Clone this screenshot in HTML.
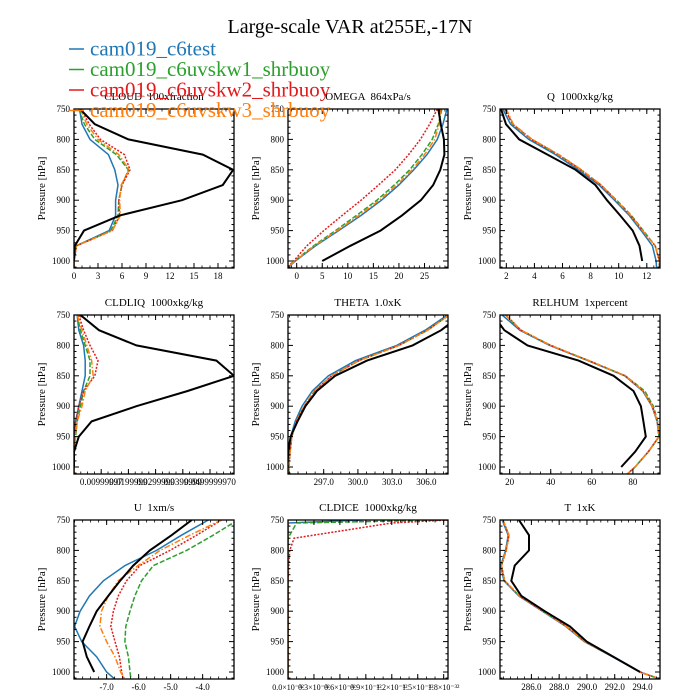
<!DOCTYPE html>
<html><head><meta charset="utf-8">
<style>
html,body{margin:0;padding:0;background:#fff;}
svg{display:block;font-family:"Liberation Serif",serif;}
text{white-space:pre;}
</style></head>
<body>
<svg id="chart" width="700" height="700" viewBox="0 0 700 700" xmlns="http://www.w3.org/2000/svg">
<text x="350" y="33" text-anchor="middle" font-size="20">Large-scale VAR at255E,-17N</text>
<g id="panels"></g>
<g id="legend"></g>
</svg>
<script>
// ---- data ----
const obsP = [750,775,800,825,850,875,900,925,950,975,1000];
const modP = [750,775,800,825,850,875,900,925,950,975,1000,1012];
const seriesNames = ["cam019_c6test","cam019_c6uvskw1_shrbuoy","cam019_c6uvskw2_shrbuoy","cam019_c6uvskw3_shrbuoy"];

const cloudObs = [0.75,2.6,6.8,16.1,19.9,18.6,13.5,5.75,1.25,0.1,0];
const cloudBlue = [0.7,1.0,2.0,4.3,5.1,5.5,5.2,5.2,4.4,0.3,0,0];
const cloudGreen = [0.6,1.3,2.6,5.3,6.8,6.0,5.6,5.5,4.6,0.3,0,0];
const cloudRed = [0.9,1.9,3.3,6.3,7.0,6.0,5.6,5.7,4.8,0.3,0,0];
const cloudOrange = [0.8,1.6,3.0,5.6,6.9,5.9,5.7,5.8,4.8,0.3,0,0];

const liqObs = [0.04,0.156,0.39,0.89,1.0,0.71,0.39,0.11,0.03,0,0];
const liqBlue = [0.02,0.03,0.06,0.07,0.07,0.05,0.03,0.01,0,0,0,0];
const liqGreen = [0.02,0.04,0.07,0.10,0.10,0.06,0.04,0.02,0.01,0,0,0];
const liqRed = [0.03,0.06,0.10,0.15,0.13,0.06,0.03,0.01,0,0,0,0];
const liqOrange = [0.02,0.05,0.08,0.11,0.12,0.07,0.05,0.02,0.01,0,0,0];

const omegaObs = [27.7,28.2,28.8,28.9,28.1,26.7,24.3,20.6,16.4,10.5,5.0];
const omegaBlue = [29.4,28.6,27.5,25.5,22.9,20.0,16.6,12.6,8.2,3.7,-0.25,-1.9];
const omegaGreen = [28.4,27.7,26.5,24.5,22.1,19.1,15.7,11.7,7.6,3.3,-0.45,-1.9];
const omegaRed = [27.5,26.0,24.2,21.9,19.3,16.0,12.6,8.9,5.3,2.0,-0.6,-2.0];
const omegaOrange = [28.1,27.9,27.0,25.0,22.6,19.6,16.2,12.2,7.9,3.5,-0.35,-1.9];

const thetaObs = [309.0,307.3,304.8,300.8,298.0,296.4,295.4,294.7,294.1,293.9,293.8];
const thetaBlue = [307.85,305.9,303.4,299.8,297.4,296.0,295.1,294.5,294.1,294.0,293.9,293.9];
const thetaGreen = [308.0,306.1,303.6,300.1,297.7,296.2,295.3,294.6,294.2,294.05,293.95,293.95];
const thetaRed = [308.0,306.1,303.6,300.1,297.7,296.2,295.3,294.6,294.2,294.05,293.95,293.95];
const thetaOrange = [308.0,306.1,303.6,300.1,297.7,296.2,295.3,294.6,294.2,294.05,293.95,293.95];

const qObs = [1.62,1.98,2.92,4.93,6.93,8.34,9.17,10.1,11.0,11.48,11.67];
const qBlue = [1.75,2.3,3.6,5.5,7.1,8.6,9.7,10.75,11.6,12.4,12.66,12.7];
const qGreen = [1.9,2.45,3.8,5.7,7.3,8.75,9.85,10.9,11.75,12.6,12.9,12.9];
const qRed = [1.9,2.45,3.8,5.7,7.3,8.7,9.8,10.85,11.7,12.6,12.9,12.9];
const qOrange = [2.0,2.5,3.85,5.75,7.35,8.75,9.8,10.85,11.7,12.6,12.9,12.95];

const rhObs = [12.0,17.4,28.7,53.5,70.6,80.3,83.9,85.1,86.3,81.1,74.3];
const rhBlue = [16.3,25.0,39.5,58.0,76.0,84.8,89.3,91.8,92.7,87.5,81.1,77.1];
const rhGreen = [18.0,25.5,40.0,58.5,76.3,85.8,90.0,92.1,92.8,87.5,81.1,77.1];
const rhRed = [18.2,25.5,40.0,58.5,76.3,85.1,89.5,91.9,92.7,87.5,81.1,77.1];
const rhOrange = [18.2,25.5,40.0,58.5,76.3,85.1,89.5,91.9,92.7,87.5,81.1,77.1];

const uObs = [-4.34,-4.97,-5.65,-6.17,-6.58,-6.95,-7.31,-7.54,-7.75,-7.62,-7.39];
const uBlue = [-3.82,-4.66,-5.44,-6.43,-7.1,-7.54,-7.83,-8.0,-7.78,-7.31,-7.0,-6.74];
const uGreen = [-2.9,-3.67,-4.5,-5.54,-5.91,-6.12,-6.27,-6.4,-6.43,-6.32,-6.27,-6.24];
const uRed = [-3.41,-4.19,-5.02,-5.96,-6.38,-6.64,-6.79,-6.87,-6.74,-6.6,-6.53,-6.48];
const uOrange = [-3.41,-4.4,-5.33,-6.02,-6.64,-6.95,-7.16,-7.21,-7.0,-6.74,-6.56,-6.43];

const iceP = [750,755,780,800,850,900,950,1000,1012];
const iceBlue = [0.87,0,0,0,0,0,0,0,0];
const iceGreen = [1.85,0.1,0,0,0,0,0,0,0];
const iceRed = [1.85,1.2,0.07,0.02,0,0,0,0,0];
const iceOrange = [0,0,0,0,0,0,0,0,0];

const tObs = [285.1,285.83,285.83,284.8,284.55,285.28,286.96,288.77,289.98,291.9,293.83];
const tBlue = [283.9,284.33,284.14,283.8,284.02,285.1,286.79,288.48,289.81,291.85,293.8,295.3];
const tGreen = [283.95,284.38,284.19,283.85,284.07,285.15,286.84,288.53,289.86,291.9,293.83,295.3];
const tRed = [283.95,284.38,284.19,283.85,284.07,285.15,286.84,288.53,289.86,291.9,293.83,295.3];
const tOrange = [283.95,284.38,284.19,283.85,284.07,285.15,286.84,288.53,289.86,291.9,293.83,295.3];

const cloudTicks = [0,3,6,9,12,15,18];
const liqTicks = [0.17,0.34,0.51,0.68,0.85];
const liqTickLabels = ["0.00999997","0.0199999","0.0299999","0.0399999","0.0499999970"];
const omegaTicks = [0,5,10,15,20,25];
const thetaTicks = [297,300,303,306];
const thetaTickLabels = ["297.0","300.0","303.0","306.0"];
const qTicks = [2,4,6,8,10,12];
const rhTicks = [20,40,60,80];
const uTicks = [-7,-6,-5,-4];
const uTickLabels = ["-7.0","-6.0","-5.0","-4.0"];
const iceTicks = [0,0.3,0.6,0.9,1.2,1.5,1.8];
const iceTickLabels = ["0.0×10⁻³²","0.3×10⁻³²","0.6×10⁻³²","0.9×10⁻³²","1.2×10⁻³²","1.5×10⁻³²","1.8×10⁻³²"];
const tTicks = [286,288,290,292,294];
const tTickLabels = ["286.0","288.0","290.0","292.0","294.0"];
const pTicks = [750,800,850,900,950,1000];

// ---- drawing ----
const NS = "http://www.w3.org/2000/svg";
const colors = ["#1f77b4","#2ca02c","#e31a1c","#ff7f0e"];
const dashes = ["", "5,2", "2,1.5", "6,2,1.5,2"];
const pMin = 750, pMax = 1011.5;
const root = document.getElementById("panels");

function mk(tag, attrs, parent){ const e=document.createElementNS(NS,tag); for(const k in attrs) e.setAttribute(k,attrs[k]); parent.appendChild(e); return e; }

const panels = [
 {name:"cloud", title:"CLOUD  100xfraction", x0:74, y0:109, xmin:0, xmax:20, ticks:cloudTicks, labels:null, minor:1, obs:cloudObs, obsP:obsP, mP:modP, mods:[cloudBlue,cloudGreen,cloudRed,cloudOrange]},
 {name:"omega", title:"OMEGA  864xPa/s", x0:288, y0:109, xmin:-1.7, xmax:29.6, ticks:omegaTicks, labels:null, minor:1, obs:omegaObs, obsP:obsP, mP:modP, mods:[omegaBlue,omegaGreen,omegaRed,omegaOrange]},
 {name:"q", title:"Q  1000xkg/kg", x0:500, y0:109, xmin:1.55, xmax:12.94, ticks:qTicks, labels:null, minor:0.5, obs:qObs, obsP:obsP, mP:modP, mods:[qBlue,qGreen,qRed,qOrange]},
 {name:"cldliq", title:"CLDLIQ  1000xkg/kg", x0:74, y0:315, xmin:0, xmax:1, ticks:liqTicks, labels:liqTickLabels, minor:0.0425, obs:liqObs, obsP:obsP, mP:modP, mods:[liqBlue,liqGreen,liqRed,liqOrange]},
 {name:"theta", title:"THETA  1.0xK", x0:288, y0:315, xmin:293.87, xmax:307.9, ticks:thetaTicks, labels:thetaTickLabels, minor:0.75, obs:thetaObs, obsP:obsP, mP:modP, mods:[thetaBlue,thetaGreen,thetaRed,thetaOrange]},
 {name:"relhum", title:"RELHUM  1xpercent", x0:500, y0:315, xmin:15.3, xmax:93.2, ticks:rhTicks, labels:null, minor:5, obs:rhObs, obsP:obsP, mP:modP, mods:[rhBlue,rhGreen,rhRed,rhOrange]},
 {name:"u", title:"U  1xm/s", x0:74, y0:520, xmin:-8.02, xmax:-3.02, ticks:uTicks, labels:uTickLabels, minor:0.25, obs:uObs, obsP:obsP, mP:modP, mods:[uBlue,uGreen,uRed,uOrange]},
 {name:"cldice", title:"CLDICE  1000xkg/kg", x0:288, y0:520, xmin:0, xmax:1.85, ticks:iceTicks, labels:iceTickLabels, minor:0.1, obs:null, obsP:obsP, mP:iceP, mods:[iceBlue,iceGreen,iceRed,iceOrange]},
 {name:"t", title:"T  1xK", x0:500, y0:520, xmin:283.74, xmax:295.26, ticks:tTicks, labels:tTickLabels, minor:0.5, obs:tObs, obsP:obsP, mP:modP, mods:[tBlue,tGreen,tRed,tOrange]}
];
const W=160, H=159;

panels.forEach((pn,i)=>{
  const g = mk("g",{},root);
  
  
  const xs = v => pn.x0 + (v-pn.xmin)/(pn.xmax-pn.xmin)*W;
  const ys = p => pn.y0 + (p-pMin)/(pMax-pMin)*H;
  const cid = "clip"+i;
  const cp = mk("clipPath",{id:cid},g);
  mk("rect",{x:pn.x0,y:pn.y0,width:W,height:H},cp);

  const t = mk("text",{x:pn.x0+W/2,y:pn.y0-9,"text-anchor":"middle","font-size":"11"},g);
  t.textContent = pn.title;
  
  

  const yl = mk("text",{x:0,y:0,"text-anchor":"middle","font-size":"11",transform:`translate(${pn.x0-29},${pn.y0+H/2}) rotate(-90)`},g);
  yl.textContent = "Pressure [hPa]";
  
  

  const lines = mk("g",{"clip-path":`url(#${cid})`},g);
  pn.mods.forEach((arr,k)=>{
    const d = arr.map((v,j)=>(j?"L":"M")+xs(v).toFixed(1)+","+ys(pn.mP[j]).toFixed(1)).join("");
    const pth = mk("path",{d:d,fill:"none",stroke:colors[k],"stroke-width":"1.5"},lines);
    if(dashes[k]) pth.setAttribute("stroke-dasharray",dashes[k]);
    
    
  });
  if(pn.obs){
    const d = pn.obs.map((v,j)=>(j?"L":"M")+xs(v).toFixed(1)+","+ys(pn.obsP[j]).toFixed(1)).join("");
    const pth = mk("path",{d:d,fill:"none",stroke:"#000","stroke-width":"2"},lines);
    
    
  }

  mk("rect",{x:pn.x0,y:pn.y0,width:W,height:H,fill:"none",stroke:"#000","stroke-width":"1.3"},g);

  for(let p=750;p<=1010;p+=10){
    const major = p%50===0;
    const L = major?5:2.5;
    const y = ys(p);
    mk("line",{x1:pn.x0,y1:y,x2:pn.x0+L,y2:y,stroke:"#000","stroke-width":"1"},g);
    mk("line",{x1:pn.x0+W,y1:y,x2:pn.x0+W-L,y2:y,stroke:"#000","stroke-width":"1"},g);
  }
  pTicks.forEach(p=>{
    const tx = mk("text",{x:pn.x0-4,y:ys(p)+3,"text-anchor":"end","font-size":"9"},g);
    tx.textContent = p;
    
    
  });
  const start = Math.ceil(pn.xmin/pn.minor)*pn.minor;
  for(let v=start; v<=pn.xmax+1e-9; v+=pn.minor){
    const x = xs(v);
    mk("line",{x1:x,y1:pn.y0+H,x2:x,y2:pn.y0+H-2.5,stroke:"#000","stroke-width":"0.8"},g);
    mk("line",{x1:x,y1:pn.y0,x2:x,y2:pn.y0+2.5,stroke:"#000","stroke-width":"0.8"},g);
  }
  pn.ticks.forEach((v,j)=>{
    const x = xs(v);
    mk("line",{x1:x,y1:pn.y0+H,x2:x,y2:pn.y0+H-5,stroke:"#000","stroke-width":"1"},g);
    mk("line",{x1:x,y1:pn.y0,x2:x,y2:pn.y0+5,stroke:"#000","stroke-width":"1"},g);
    const tx = mk("text",{x:x,y:pn.y0+H+11,"text-anchor":"middle","font-size": pn.name==="cldice"?"8":"9"},g);
    tx.textContent = pn.labels ? pn.labels[j] : v;
    
    
  });
});

const leg = document.getElementById("legend");
seriesNames.forEach((n,k)=>{
  const y = 49 + k*20.5;
  const ln = mk("line",{x1:69,y1:y,x2:84,y2:y,stroke:colors[k],"stroke-width":"1.5"},leg);
  
  
  const tx = mk("text",{x:90,y:y+6.5,"font-size":"21",fill:colors[k]},leg);
  tx.textContent = n;
  
  
});
</script>
</body></html>
